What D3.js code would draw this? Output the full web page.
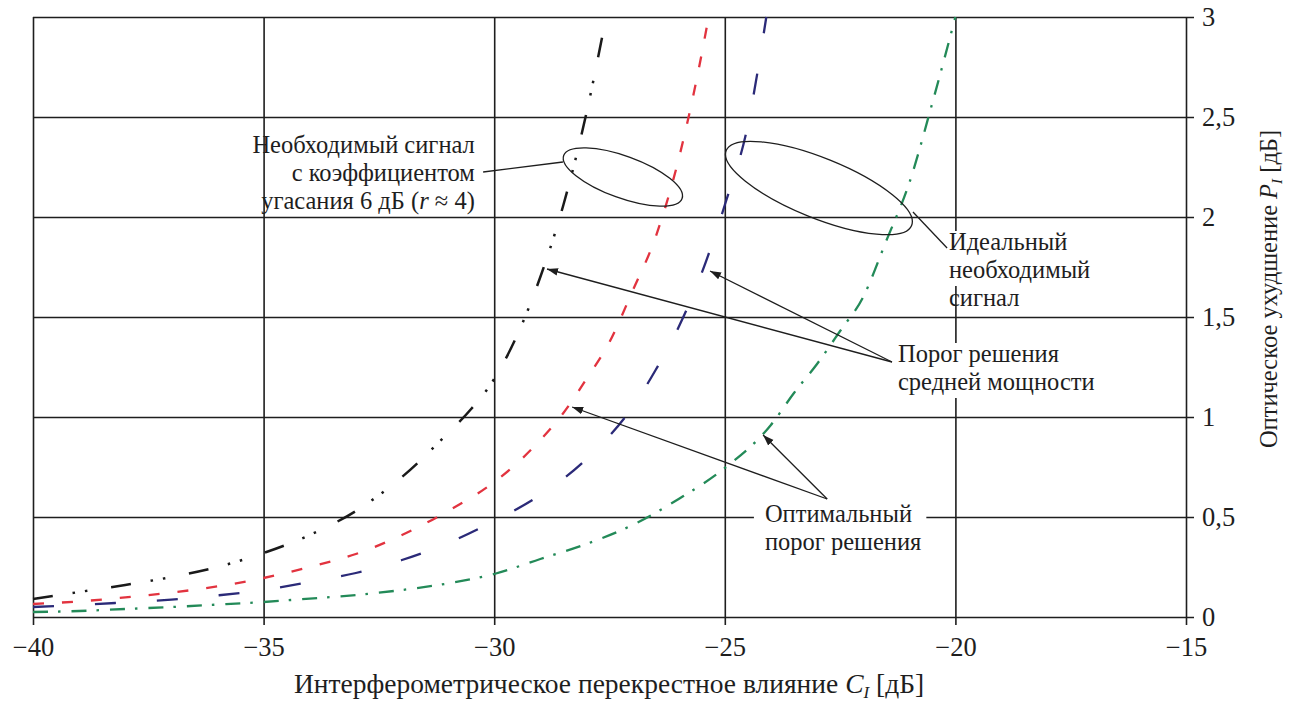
<!DOCTYPE html>
<html><head><meta charset="utf-8">
<script src="https://cdn.jsdelivr.net/npm/d3@7"></script>
<style>
html,body{margin:0;padding:0;background:#fff;}
svg{display:block;}
svg text{font-family:"Liberation Serif","Times New Roman",serif;}
</style></head>
<body>
<svg id="chart" width="1290" height="701"></svg>
<script>
// ---- data ----
const xTicks = [-40, -35, -30, -25, -20, -15];
const yTicks = [0, 0.5, 1, 1.5, 2, 2.5, 3];

// ER 6 dB, average-power threshold (black, dash-dot-dot)
const blackX = [-40, -39, -38, -37, -36, -35, -34, -33, -32, -31, -30.5, -30, -29.5, -29, -28.5, -28, -27.6];
const blackY = [0.09, 0.125, 0.16, 0.2, 0.25, 0.32, 0.41, 0.53, 0.70, 0.92, 1.04, 1.19, 1.41, 1.70, 2.06, 2.52, 2.97];

// ER 6 dB, optimal threshold (red, short dashes)
const redX = [-40, -39, -38, -37, -36, -35, -34, -33, -32, -31, -30, -29.5, -29, -28.5, -28, -27.5, -27, -26.5, -26, -25.6, -25.35];
const redY = [0.065, 0.078, 0.098, 0.122, 0.153, 0.195, 0.25, 0.315, 0.41, 0.53, 0.675, 0.77, 0.885, 1.02, 1.19, 1.375, 1.63, 1.9, 2.29, 2.7, 3.0];

// ideal signal, average-power threshold (blue, long dashes)
const blueX = [-40, -39, -38, -37, -36, -35, -34, -33, -32, -31, -30, -29, -28, -27, -26.5, -26, -25.5, -25, -24.5, -24.1];
const blueY = [0.05, 0.06, 0.073, 0.087, 0.108, 0.135, 0.175, 0.22, 0.285, 0.37, 0.48, 0.61, 0.79, 1.05, 1.235, 1.45, 1.72, 2.06, 2.46, 3.0];

// ideal signal, optimal threshold (green, dash-dot)
const greenX = [-40, -39, -38, -37, -36, -35, -34, -33, -32, -31, -30, -29, -28, -27, -26, -25, -24, -23.5, -23, -22.5, -22, -21.5, -21, -20.5, -20];
const greenY = [0.025, 0.03, 0.04, 0.05, 0.062, 0.075, 0.092, 0.11, 0.135, 0.168, 0.215, 0.29, 0.365, 0.46, 0.59, 0.745, 0.96, 1.12, 1.265, 1.43, 1.6, 1.88, 2.17, 2.57, 3.0];

const xTitle = "Интерферометрическое перекрестное влияние";
const yTitle = "Оптическое ухудшение";

// ---- layout ----
const W = 1290, H = 701;
const m = {left: 33, right: 104, top: 17, bottom: 84};
const SERIF = '"Liberation Serif","Times New Roman",serif';
const svg = d3.select("#chart");
const x = d3.scaleLinear().domain([-40, -15]).range([m.left, W - m.right]);
const y = d3.scaleLinear().domain([0, 3]).range([H - m.bottom, m.top]);
const ext = 8;
const ink = "#1e1e1e";
const FONT = 24.5;

svg.append("rect").attr("width", W).attr("height", H).attr("fill", "#fff");

// grid + axes
const gx = svg.append("g")
  .attr("transform", `translate(0,${y(0) + ext})`)
  .call(d3.axisBottom(x).tickValues(xTicks).tickSize(-(y(0) - y(3) + ext)).tickPadding(12)
    .tickFormat(d => d3.format("")(d)));
const gy = svg.append("g")
  .attr("transform", `translate(${x(-15) + ext},0)`)
  .call(d3.axisRight(y).tickValues(yTicks).tickSize(-(x(-15) - x(-40) + ext)).tickPadding(8)
    .tickFormat(d => String(d).replace(".", ",")));
[gx, gy].forEach(g => {
  g.attr("font-family", SERIF).attr("font-size", 26);
  g.select(".domain").remove();
  g.selectAll(".tick line").attr("stroke", ink).attr("stroke-width", 1.6);
  g.selectAll(".tick text").attr("fill", ink).attr("font-size", 26.5).attr("font-family", SERIF);
});

// annotation text blocks (white background boxes interrupt grid)
const blocks = [
  {x: -30.42, y: 2.32, anchor: "end", lines: [["Необходимый сигнал"], ["с коэффициентом"], ["угасания 6 дБ (", {t: "r", i: true}, " ≈ 4)"]], box: false},
  {x: -20.14, y: 1.835, anchor: "start", lines: [["Идеальный"], ["необходимый"], ["сигнал"]], box: true, boxLines: 2},
  {x: -21.245, y: 1.275, anchor: "start", lines: [["Порог решения"], ["средней мощности"]], box: true, boxLines: 2},
  {x: -24.13, y: 0.475, anchor: "start", lines: [["Оптимальный"], ["порог решения"]], box: true, boxLines: 2}
];
const lineH = 28;

const boxLayer = svg.append("g");
const curveLayer = svg.append("g");
const annoLayer = svg.append("g");
const textLayer = svg.append("g").attr("font-family", SERIF);

blocks.forEach(b => {
  const g = textLayer.append("g");
  const bx = x(b.x), by = y(b.y);
  const t = g.append("text").attr("x", bx).attr("y", by).attr("text-anchor", b.anchor)
    .attr("font-size", FONT).attr("font-family", SERIF).attr("fill", ink);
  b.lines.forEach((ln, i) => {
    const row = t.append("tspan").attr("x", bx).attr("y", by + i * lineH);
    ln.forEach(seg => {
      if (typeof seg === "string") row.append("tspan").text(seg);
      else row.append("tspan").attr("font-style", seg.i ? "italic" : null).text(seg.t);
    });
  });
  if (b.box) {
    const bb = t.node().getBBox();
    const top = by - 19;
    const bottom = by + (b.boxLines - 1) * lineH + 8;
    boxLayer.append("rect").attr("x", bb.x - 11).attr("y", top)
      .attr("width", bb.width + 16).attr("height", bottom - top).attr("fill", "#fff");
  }
});

// curves
const line = d3.line().x(d => x(d[0])).y(d => y(d[1])).curve(d3.curveMonotoneX);
const series = [
  {xs: blackX, ys: blackY, color: "#1a1a1a", dash: "20,20,2.5,10,2.5,24", w: 2.5},
  {xs: redX, ys: redY, color: "#e2333f", dash: "11,18", w: 2.3},
  {xs: blueX, ys: blueY, color: "#2b2a78", dash: "21,41", w: 2.3},
  {xs: greenX, ys: greenY, color: "#238a58", dash: "15,10,2.5,11", w: 2.3}
];
series.forEach(s => {
  curveLayer.append("path").datum(s.xs.map((v, i) => [v, s.ys[i]]))
    .attr("d", line).attr("fill", "none").attr("stroke", s.color)
    .attr("stroke-width", s.w).attr("stroke-dasharray", s.dash);
});

// ellipses
const ellipses = [
  {cx: -27.21, cy: 2.2, rx: 63, ry: 21, rot: 20},
  {cx: -22.96, cy: 2.145, rx: 100, ry: 30, rot: 22}
];
ellipses.forEach(e => {
  annoLayer.append("ellipse")
    .attr("transform", `translate(${x(e.cx)},${y(e.cy)}) rotate(${e.rot})`)
    .attr("rx", e.rx).attr("ry", e.ry).attr("fill", "none").attr("stroke", ink).attr("stroke-width", 1.3);
});

// leader lines without arrowheads
const leaders = [
  [[-30.24, 2.225], [-28.51, 2.275]],
  [[-20.92, 2.025], [-20.18, 1.845]]
];
leaders.forEach(l => {
  annoLayer.append("line").attr("x1", x(l[0][0])).attr("y1", y(l[0][1]))
    .attr("x2", x(l[1][0])).attr("y2", y(l[1][1])).attr("stroke", ink).attr("stroke-width", 1.3);
});

// arrows
const defs = svg.append("defs");
defs.append("marker").attr("id", "ah").attr("viewBox", "0 0 10 10").attr("refX", 10).attr("refY", 5)
  .attr("markerWidth", 11).attr("markerHeight", 11).attr("markerUnits", "userSpaceOnUse")
  .attr("orient", "auto")
  .append("path").attr("d", "M0,1.5 L10,5 L0,8.5 Z").attr("fill", ink);
const arrows = [
  {from: [-21.375, 1.275], to: [-28.855, 1.74]},
  {from: [-21.375, 1.275], to: [-25.32, 1.73]},
  {from: [-22.78, 0.59], to: [-28.31, 1.05]},
  {from: [-22.78, 0.59], to: [-24.17, 0.91]}
];
arrows.forEach(a => {
  annoLayer.append("line").attr("x1", x(a.from[0])).attr("y1", y(a.from[1]))
    .attr("x2", x(a.to[0])).attr("y2", y(a.to[1])).attr("stroke", ink).attr("stroke-width", 1.3)
    .attr("marker-end", "url(#ah)");
});

// axis titles
const xt = svg.append("text").attr("x", 609).attr("y", 693).attr("text-anchor", "middle")
  .attr("font-size", 27.5).attr("font-family", SERIF).attr("fill", ink);
xt.append("tspan").text(xTitle + " ");
xt.append("tspan").attr("font-style", "italic").text("C");
xt.append("tspan").attr("font-style", "italic").attr("font-size", 17).attr("dy", 5).text("I");
xt.append("tspan").attr("dy", -5).text(" [дБ]");

const yt = svg.append("text").attr("transform", `translate(1277,289) rotate(-90)`).attr("text-anchor", "middle")
  .attr("font-size", FONT).attr("font-family", SERIF).attr("fill", ink);
yt.append("tspan").text(yTitle + " ");
yt.append("tspan").attr("font-style", "italic").text("P");
yt.append("tspan").attr("font-style", "italic").attr("font-size", 15).attr("dy", 5).text("I");
yt.append("tspan").attr("dy", -5).text(" [дБ]");
</script>
</body></html>
